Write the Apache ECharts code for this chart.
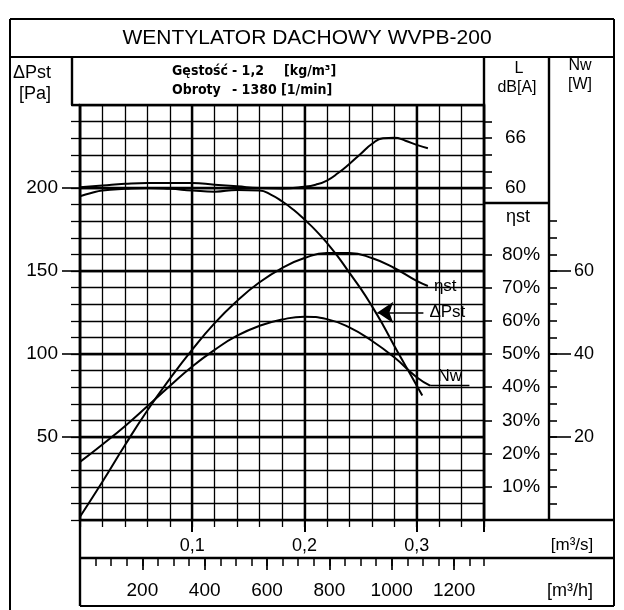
<!DOCTYPE html>
<html>
<head>
<meta charset="utf-8">
<script src="https://cdn.jsdelivr.net/npm/echarts@6/dist/echarts.min.js"></script>
<style>
html,body{margin:0;padding:0;background:#fff;}
#chart{width:624px;height:610px;}
</style>
</head>
<body>
<div id="chart"></div>
<script>
// ---- data ----
// static pressure ΔPst [Pa] vs flow [m3/s]
const flowPst = [0, 0.01, 0.02, 0.04, 0.06, 0.08, 0.10, 0.12, 0.14, 0.16, 0.17, 0.18, 0.19, 0.20, 0.21, 0.22, 0.23, 0.24, 0.25, 0.26, 0.27, 0.28, 0.29, 0.30, 0.305];
const pst     = [195, 197, 198.5, 199.5, 200, 199.5, 198.5, 197.8, 198.8, 198.5, 196, 192, 187, 181, 174.5, 167, 158.5, 149, 139.5, 129, 117.5, 105, 93, 81, 75];
// sound level L [dB(A)]
const flowL  = [0, 0.02, 0.04, 0.06, 0.08, 0.10, 0.12, 0.14, 0.16, 0.18, 0.20, 0.21, 0.22, 0.23, 0.24, 0.25, 0.26, 0.27, 0.28, 0.29, 0.30, 0.31];
const levelL = [60.1, 60.3, 60.5, 60.6, 60.6, 60.6, 60.4, 60.2, 60.0, 59.95, 60.15, 60.4, 60.9, 61.8, 62.9, 64.1, 65.3, 66.0, 66.05, 65.7, 65.2, 64.8];
// static efficiency ηst [%]
const flowEta = [0, 0.02, 0.04, 0.06, 0.08, 0.10, 0.12, 0.14, 0.16, 0.18, 0.20, 0.22, 0.24, 0.26, 0.28, 0.30, 0.31];
const eta     = [1, 11.5, 22.5, 33, 42.5, 51.3, 59.3, 66, 71.6, 75.9, 78.9, 80.4, 80.4, 78.9, 75.9, 72, 70.5];
// shaft power Nw [W]
const flowNw = [0, 0.02, 0.04, 0.06, 0.08, 0.10, 0.12, 0.14, 0.16, 0.18, 0.20, 0.22, 0.24, 0.26, 0.28, 0.30, 0.312];
const nw     = [14, 18.2, 22.6, 27.4, 32.3, 37.0, 41.0, 44.4, 46.8, 48.3, 49, 48.4, 46.4, 43.2, 39.2, 34.4, 32.4];

// tick labels
const paLabels   = [50, 100, 150, 200];
const qLabels    = [0.1, 0.2, 0.3];
const qhLabels   = [200, 400, 600, 800, 1000, 1200];
const dbTicks    = [60, 62, 64, 66, 68];
const dbLabels   = [60, 66];
const etaLabels  = [10, 20, 30, 40, 50, 60, 70, 80];
const nwTicks    = [4, 8, 12, 16, 20, 24, 28, 32, 36, 40, 44, 48, 52, 56, 60, 64, 68, 72];
const nwLabels   = [20, 40, 60];

// annotations
const pstArrow = [[0.306, 125], [0.265, 125]];
const nwUnder  = [[0.312, 32.4], [0.347, 32.4]];

// ---- chart ----
const FONT = "'Liberation Sans', Arial, sans-serif";
const NARROW = "'Liberation Sans Narrow', 'DejaVu Sans Condensed', 'Liberation Sans', sans-serif";
const BLK = '#000';
const zip = (xs, ys) => xs.map((x, i) => [x, ys[i]]);

const G = {left: 80, top: 105, width: 404, height: 415};
const R = G.left + G.width;   // 484
const B = G.top + G.height;   // 520

function ln(x1, y1, x2, y2, w) {
  return {type: 'line', silent: true, shape: {x1, y1, x2, y2}, style: {stroke: BLK, lineWidth: w || 2}};
}
function tx(x, y, text, font, align) {
  return {type: 'text', silent: true, x, y,
    style: {text, font, fill: BLK, textAlign: align || 'center', textVerticalAlign: 'middle'}};
}

const chart = echarts.init(document.getElementById('chart'), null, {renderer: 'canvas'});

const thin = {color: BLK, width: 1.3};
const thick = {color: BLK, width: 2.4};
const lineS = {color: BLK, width: 2};

chart.setOption({
  animation: false,
  backgroundColor: '#fff',
  grid: [
    {left: G.left, top: G.top, width: G.width, height: G.height, show: true, borderColor: BLK, borderWidth: 2.5, backgroundColor: 'transparent'},
    {left: G.left, top: B, width: G.width, height: 38, show: false}
  ],
  xAxis: [
    {type: 'value', gridIndex: 0, min: 0, max: 0.36, interval: 0.02, position: 'bottom',
      axisLine: {show: false}, axisTick: {show: true, length: 7, lineStyle: thin},
      axisLabel: {show: false}, splitLine: {show: true, lineStyle: thin}},
    {type: 'value', gridIndex: 0, min: 0, max: 0.36, interval: 0.1, position: 'bottom',
      axisLine: {show: false}, axisTick: {show: true, length: 12, lineStyle: {color: BLK, width: 2}},
      axisLabel: {show: true, customValues: qLabels, margin: 17, fontSize: 18, fontFamily: FONT, color: BLK,
        formatter: v => v.toFixed(1).replace('.', ',')},
      splitLine: {show: true, lineStyle: thick}},
    {type: 'value', gridIndex: 1, min: 0, max: 1296, interval: 50, position: 'bottom',
      axisLine: {show: false}, axisTick: {show: true, length: 8, lineStyle: {color: BLK, width: 1.5}},
      axisLabel: {show: false}, splitLine: {show: false}},
    {type: 'value', gridIndex: 1, min: 0, max: 1296, interval: 200, position: 'bottom',
      axisLine: {show: false}, axisTick: {show: true, length: 12, customValues: qhLabels, lineStyle: {color: BLK, width: 1.7}},
      axisLabel: {show: true, customValues: qhLabels, margin: 23, fontSize: 19, fontFamily: FONT, color: BLK,
        formatter: v => String(v)},
      splitLine: {show: false}}
  ],
  yAxis: [
    {type: 'value', gridIndex: 0, min: 0, max: 250, interval: 10, position: 'left',
      axisLine: {show: false}, axisTick: {show: true, length: 9, lineStyle: thin},
      axisLabel: {show: false}, splitLine: {show: true, lineStyle: thin}},
    {type: 'value', gridIndex: 0, min: 0, max: 250, interval: 50, position: 'left',
      axisLine: {show: false}, axisTick: {show: true, length: 18, customValues: paLabels, lineStyle: {color: BLK, width: 1.6}},
      axisLabel: {show: true, customValues: paLabels, margin: 22, fontSize: 19, fontFamily: FONT, color: BLK},
      splitLine: {show: true, lineStyle: thick}},
    {type: 'value', gridIndex: 0, min: 20, max: 70, position: 'right',
      axisLine: {show: false}, axisTick: {show: true, length: 8, customValues: dbTicks, lineStyle: {color: BLK, width: 1.6}},
      axisLabel: {show: true, customValues: dbLabels, margin: 21, fontSize: 19, fontFamily: FONT, color: BLK},
      splitLine: {show: false}},
    {type: 'value', gridIndex: 0, min: 0, max: 125, position: 'right',
      axisLine: {show: false}, axisTick: {show: true, length: 8, customValues: etaLabels, lineStyle: {color: BLK, width: 1.6}},
      axisLabel: {show: true, customValues: etaLabels, margin: 18, fontSize: 19, fontFamily: FONT, color: BLK, formatter: '{value}%'},
      splitLine: {show: false}},
    {type: 'value', gridIndex: 0, min: 0, max: 100, position: 'right', offset: 65,
      axisLine: {show: false}, axisTick: {show: true, length: 8, customValues: nwTicks, lineStyle: {color: BLK, width: 1.6}},
      axisLabel: {show: false}, splitLine: {show: false}},
    {type: 'value', gridIndex: 0, min: 0, max: 100, position: 'right', offset: 65,
      axisLine: {show: false}, axisTick: {show: true, length: 22, customValues: nwLabels, lineStyle: {color: BLK, width: 1.6}},
      axisLabel: {show: true, customValues: nwLabels, margin: 25, fontSize: 18, fontFamily: FONT, color: BLK},
      splitLine: {show: false}},
    {type: 'value', gridIndex: 1, min: 0, max: 1, show: false}
  ],
  series: [
    {name: 'ΔPst', type: 'line', xAxisIndex: 0, yAxisIndex: 0, data: zip(flowPst, pst),
      smooth: 0.5, symbol: 'none', lineStyle: lineS,
      markLine: {silent: true, symbol: ['none', 'arrow'], symbolSize: 16, animation: false,
        lineStyle: {color: BLK, width: 1.6, type: 'solid'},
        label: {show: true, position: 'start', formatter: 'ΔPst', fontSize: 17, fontFamily: FONT, color: BLK, distance: 6},
        data: [[{coord: pstArrow[0]}, {coord: pstArrow[1]}]]}},
    {name: 'L', type: 'line', xAxisIndex: 0, yAxisIndex: 2, data: zip(flowL, levelL),
      smooth: 0.5, symbol: 'none', lineStyle: lineS},
    {name: 'ηst', type: 'line', xAxisIndex: 0, yAxisIndex: 3, data: zip(flowEta, eta),
      smooth: 0.5, symbol: 'none', lineStyle: lineS,
      endLabel: {show: true, formatter: 'ηst', fontSize: 17, fontFamily: FONT, color: BLK, distance: 6}},
    {name: 'Nw', type: 'line', xAxisIndex: 0, yAxisIndex: 4, data: zip(flowNw, nw),
      smooth: 0.5, symbol: 'none', lineStyle: lineS,
      markLine: {silent: true, symbol: ['none', 'none'], animation: false,
        lineStyle: {color: BLK, width: 1.4, type: 'solid'},
        label: {show: true, position: 'insideMiddleTop', formatter: 'Nw', fontSize: 17, fontFamily: FONT, color: BLK, distance: 1},
        data: [[{coord: nwUnder[0]}, {coord: nwUnder[1]}]]}}
  ],
  graphic: [
    ln(10, 19, 614, 19),
    ln(10, 19, 10, 610),
    ln(614, 19, 614, 606),
    ln(10, 57, 614, 57),
    ln(72, 57, 72, G.top, 2.4),
    ln(72, G.top, G.left, G.top, 2.4),
    ln(R, 57, R, G.top, 2.4),
    ln(R + 65, 57, R + 65, B, 2.4),
    ln(R, 203, R + 65, 203, 2.4),
    ln(R, B, 614, B, 2.4),
    ln(G.left, B, G.left, 606, 2.4),
    ln(G.left, B + 38, 614, B + 38, 2.4),
    ln(G.left, 606, 614, 606, 2),
    tx(307, 38, 'WENTYLATOR DACHOWY WVPB-200', '21px ' + FONT),
    tx(13, 73, 'ΔPst', '18px ' + FONT, 'left'),
    tx(19, 94, '[Pa]', '18px ' + FONT, 'left'),
    tx(172, 71, 'Gęstość', 'bold 14px ' + NARROW, 'left'),
    tx(232, 71, '- 1,2', 'bold 14px ' + NARROW, 'left'),
    tx(284, 71, '[kg/m³]', 'bold 14px ' + NARROW, 'left'),
    tx(172, 90, 'Obroty', 'bold 14px ' + NARROW, 'left'),
    tx(232, 90, '- 1380 [1/min]', 'bold 14px ' + NARROW, 'left'),
    tx(519, 69, 'L', '16px ' + FONT),
    tx(517, 88, 'dB[A]', '16px ' + FONT),
    tx(580, 66, 'Nw', '16px ' + FONT),
    tx(580, 85, '[W]', '16px ' + FONT),
    tx(518, 217, 'ηst', '18px ' + FONT),
    tx(572, 545, '[m³/s]', '17px ' + FONT),
    tx(570, 591, '[m³/h]', '18px ' + FONT)
  ]
});
</script>
</body>
</html>
